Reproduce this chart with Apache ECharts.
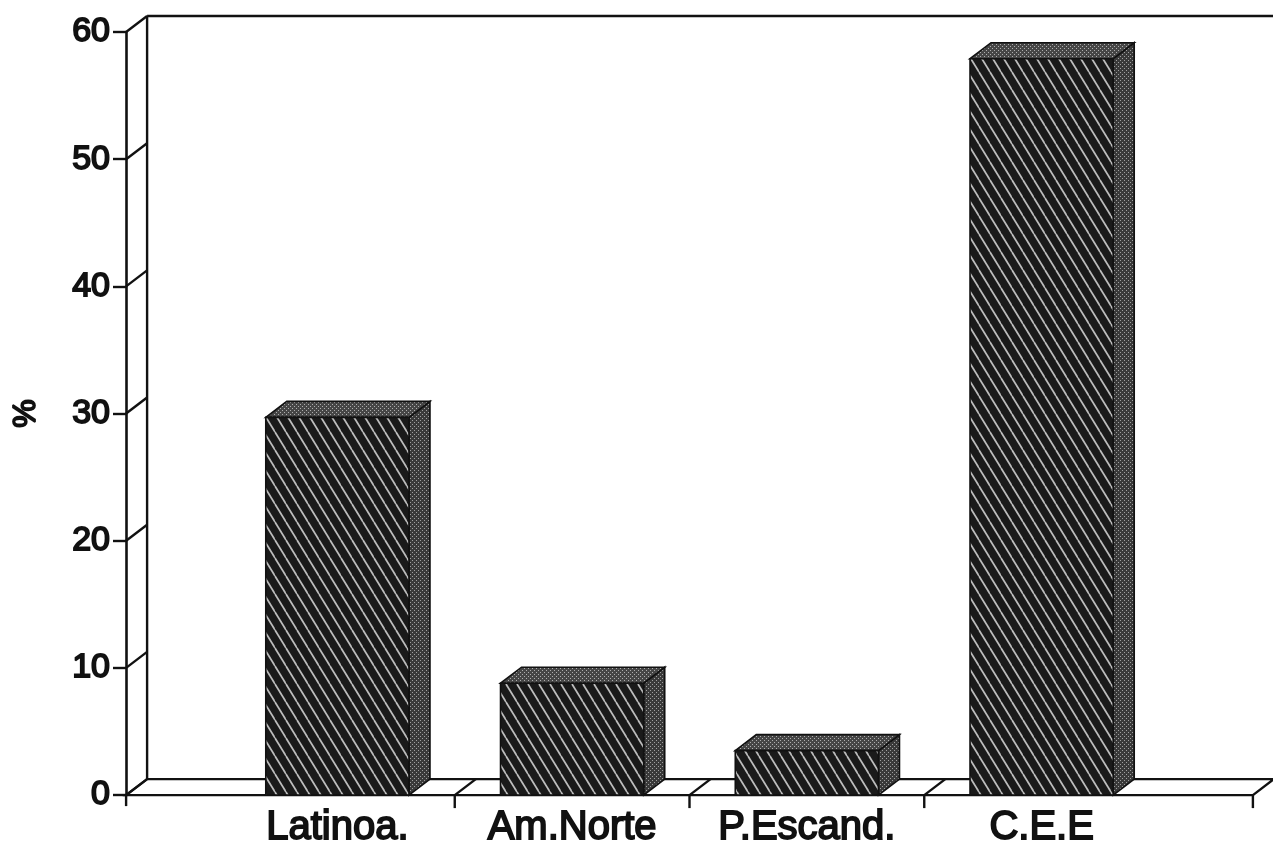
<!DOCTYPE html>
<html>
<head>
<meta charset="utf-8">
<script src="https://cdn.jsdelivr.net/npm/echarts@6/dist/echarts.min.js"></script>
<style>
  html, body { margin: 0; padding: 0; background: #fff; }
  #chart { width: 1273px; height: 849px; }
</style>
</head>
<body>
<div id="chart"></div>
<script>
// Share by region (%)
const categories = ['Latinoa.', 'Am.Norte', 'P.Escand.', 'C.E.E'];
const shares = [29.7, 8.8, 3.5, 57.9];
const yTicks = [0, 10, 20, 30, 40, 50, 60];
const yAxisName = '%';

// Oblique projection of the 3D box
const DX = 21, DY = -16;
const SIDE_PAD = 0.4;       // floor runs this many bands past the outer bars
const BAR_FRACTION = 0.61;  // front face width as a share of a band
const INK = '#111';
const FONT = '"Liberation Sans", Arial, Helvetica, sans-serif';

function hatchPattern() {
  const w = 11, h = 18;
  const c = document.createElement('canvas');
  c.width = w; c.height = h;
  const g = c.getContext('2d');
  g.fillStyle = '#1a1a1a';
  g.fillRect(0, 0, w, h);
  g.strokeStyle = '#bdbdbd';
  g.lineWidth = 1.7;
  for (let k = -1; k <= 1; k++) {
    g.beginPath();
    g.moveTo(k * w, 0);
    g.lineTo(k * w + w, h);
    g.stroke();
  }
  return { image: c, repeat: 'repeat' };
}

function stipplePattern(base, dot) {
  const c = document.createElement('canvas');
  c.width = 4; c.height = 4;
  const g = c.getContext('2d');
  g.fillStyle = base;
  g.fillRect(0, 0, 4, 4);
  g.fillStyle = dot;
  g.fillRect(0, 0, 1, 1);
  g.fillRect(2, 2, 1, 1);
  return { image: c, repeat: 'repeat' };
}

const frontFill = hatchPattern();
const sideFill = stipplePattern('#3a3a3a', '#a0a0a0');
const topFill = stipplePattern('#464646', '#aeaeae');

function seg(x1, y1, x2, y2, w) {
  return { type: 'line', shape: { x1, y1, x2, y2 }, style: { stroke: INK, lineWidth: w || 2.4 } };
}

// Floor, back wall, left-wall tick diagonals and category dividers
function renderFrame(params, api) {
  const bw = api.size([1, 0])[0];
  const first = api.coord([0, yTicks[0]]);
  const lastX = api.coord([categories.length - 1, yTicks[0]])[0];
  const y0 = first[1];
  const xL = first[0] - bw * (0.5 + SIDE_PAD);
  const xR = lastX + bw * (0.5 + SIDE_PAD);
  const yTop = api.coord([0, yTicks[yTicks.length - 1]])[1];
  const children = [];
  children.push({
    type: 'polygon',
    shape: { points: [[xL, y0], [xR, y0], [xR + DX, y0 + DY], [xL + DX, y0 + DY]] },
    style: { fill: '#fff', stroke: INK, lineWidth: 2.4 }
  });
  children.push(seg(xL + DX, y0 + DY, xL + DX, yTop + DY));
  children.push(seg(xL + DX, yTop + DY, xR + DX, yTop + DY));
  yTicks.forEach(v => {
    const y = api.coord([0, v])[1];
    children.push(seg(xL, y, xL + DX, y + DY));
  });
  for (let i = 1; i < categories.length; i++) {
    const x = api.coord([i, 0])[0] - bw / 2;
    children.push(seg(x, y0, x + DX, y0 + DY));
    children.push(seg(x, y0, x, y0 + 13));
  }
  children.push(seg(xR, y0, xR, y0 + 13));
  children.push(seg(xL, y0, xL, y0 + 11));
  return { type: 'group', children };
}

// One 3D bar: side face, top face, hatched front face
function renderBar(params, api) {
  const idx = api.value(0);
  const val = api.value(1);
  const bw = api.size([1, 0])[0];
  const top = api.coord([idx, val]);
  const y0 = api.coord([idx, 0])[1];
  const half = bw * BAR_FRACTION / 2;
  const xl = top[0] - half, xr = top[0] + half, yv = top[1];
  return {
    type: 'group',
    children: [
      {
        type: 'polygon',
        shape: { points: [[xr, y0], [xr + DX, y0 + DY], [xr + DX, yv + DY], [xr, yv]] },
        style: { fill: sideFill, stroke: INK, lineWidth: 1.6 }
      },
      {
        type: 'polygon',
        shape: { points: [[xl, yv], [xl + DX, yv + DY], [xr + DX, yv + DY], [xr, yv]] },
        style: { fill: topFill, stroke: INK, lineWidth: 1.6 }
      },
      {
        type: 'rect',
        shape: { x: xl, y: yv, width: xr - xl, height: y0 - yv },
        style: { fill: frontFill, stroke: INK, lineWidth: 1.6 }
      }
    ]
  };
}

const chart = echarts.init(document.getElementById('chart'), null, { renderer: 'canvas' });
chart.setOption({
  backgroundColor: '#fff',
  animation: false,
  grid: { left: 220, right: 114, top: 32, bottom: 53 },
  xAxis: {
    type: 'category',
    data: categories,
    axisLine: { show: false },
    axisTick: { show: false },
    splitLine: { show: false },
    axisLabel: {
      margin: 13,
      fontSize: 40,
      fontFamily: FONT,
      color: INK,
      textBorderColor: INK,
      textBorderWidth: 1.8
    }
  },
  yAxis: {
    type: 'value',
    min: yTicks[0],
    max: yTicks[yTicks.length - 1],
    interval: yTicks[1] - yTicks[0],
    offset: 94,
    name: yAxisName,
    nameLocation: 'middle',
    nameRotate: 90,
    nameGap: 84,
    nameTextStyle: {
      fontSize: 32,
      fontFamily: FONT,
      color: INK,
      textBorderColor: INK,
      textBorderWidth: 1.8
    },
    axisLine: { show: true, lineStyle: { color: INK, width: 2.6 } },
    axisTick: { show: true, length: 13, lineStyle: { color: INK, width: 2.4 } },
    splitLine: { show: false },
    axisLabel: {
      margin: 16,
      fontSize: 34,
      fontFamily: FONT,
      color: INK,
      textBorderColor: INK,
      textBorderWidth: 1.8
    }
  },
  series: [
    {
      type: 'custom',
      name: 'frame',
      renderItem: renderFrame,
      data: [[0, 0]],
      silent: true,
      z: 1
    },
    {
      type: 'custom',
      name: 'share',
      renderItem: renderBar,
      encode: { x: 0, y: 1 },
      data: categories.map((c, i) => [i, shares[i]]),
      z: 2
    }
  ]
});
</script>
</body>
</html>
